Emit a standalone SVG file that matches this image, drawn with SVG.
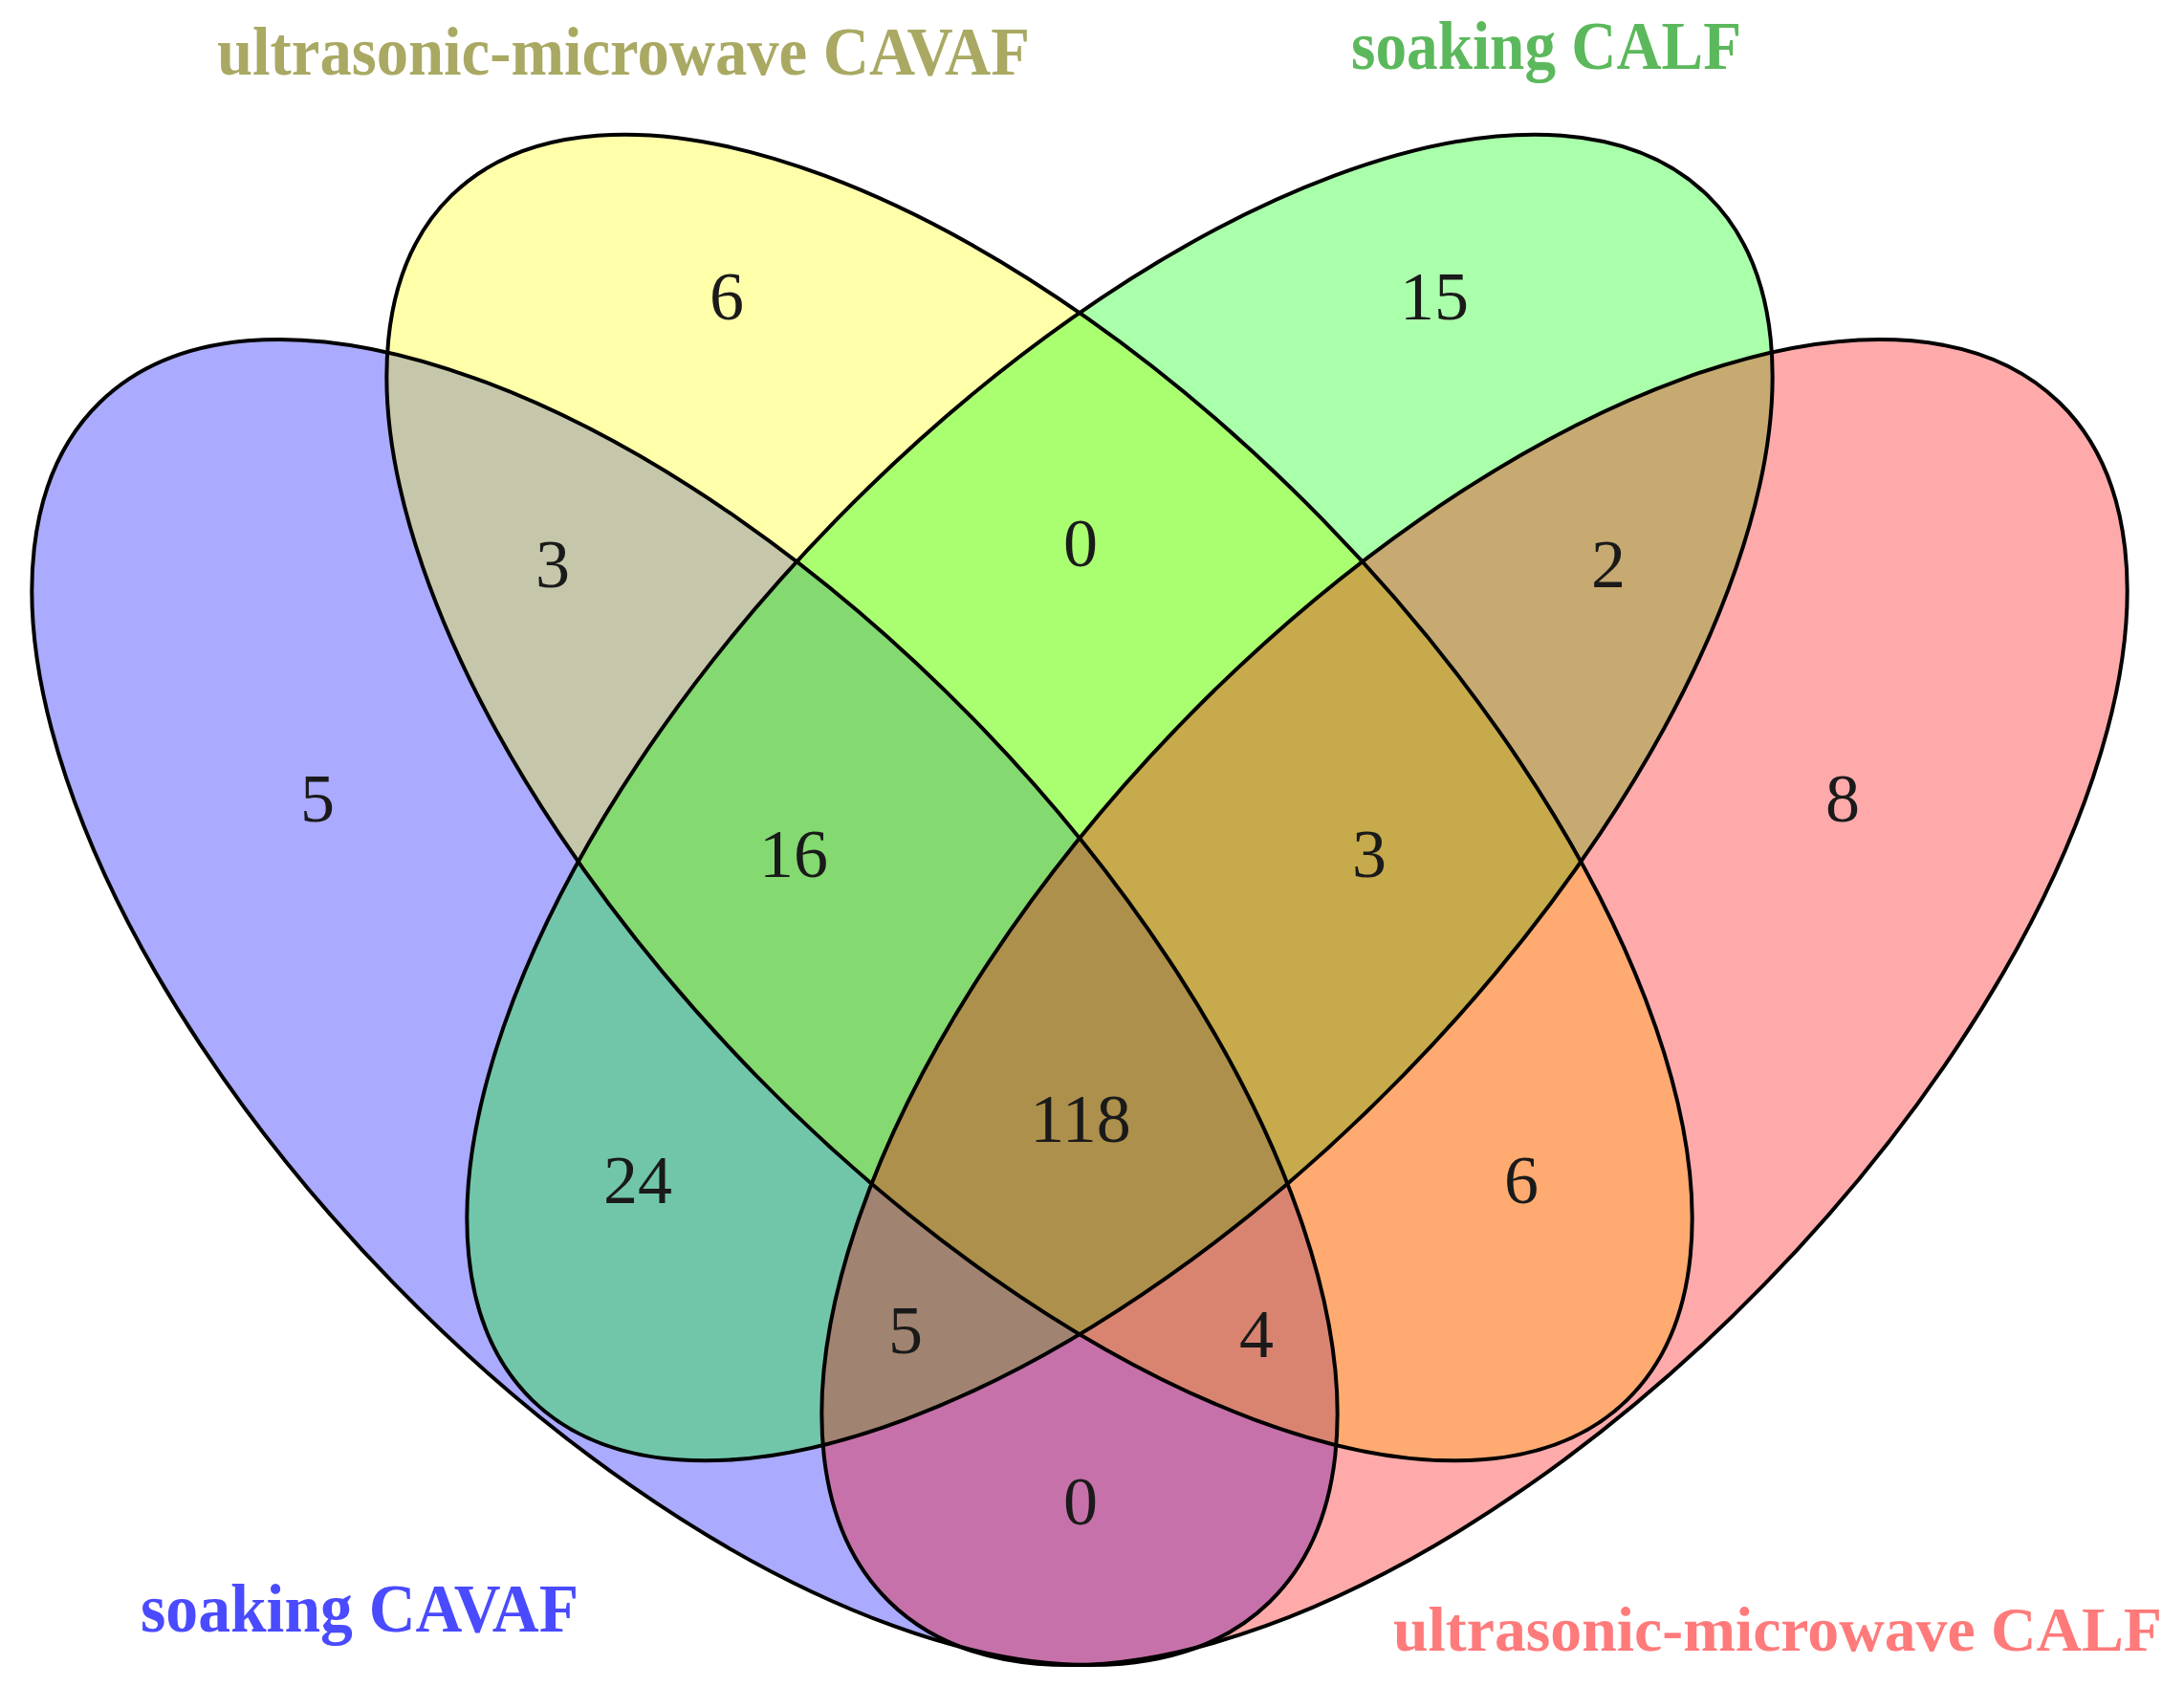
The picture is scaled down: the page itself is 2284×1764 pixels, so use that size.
<svg xmlns="http://www.w3.org/2000/svg" xmlns:xlink="http://www.w3.org/1999/xlink" width="2284" height="1764" viewBox="0 0 2284 1764">
<style>
.fill{fill-opacity:0.333;stroke:none}
.outline{fill:none;stroke:#000;stroke-width:4}
.count{font-family:"Liberation Serif","Times New Roman",serif;font-size:72px;text-anchor:middle;fill:#1a1a1a}
.label{font-family:"Liberation Serif","Times New Roman",serif;font-weight:bold;font-size:72px}
</style>
<defs>
<ellipse id="eA" cx="0" cy="0" rx="876" ry="423" transform="translate(716 1048) rotate(45.7)"/>
<ellipse id="eB" cx="0" cy="0" rx="880" ry="415" transform="translate(1087 834) rotate(45.7)"/>
<ellipse id="eC" cx="0" cy="0" rx="880" ry="415" transform="translate(1171 834) rotate(-45.7)"/>
<ellipse id="eD" cx="0" cy="0" rx="876" ry="423" transform="translate(1542 1048) rotate(-45.7)"/>
</defs>
<rect width="2284" height="1764" fill="#ffffff"/>
<g id="set-soaking-CAVAF">
<use xlink:href="#eA" href="#eA" class="fill" fill="#0000ff"/>
<text class="label" x="147" y="1706" fill="#4a4aff" textLength="458" lengthAdjust="spacingAndGlyphs">soaking CAVAF</text>
</g>
<g id="set-ultrasonic-microwave-CAVAF">
<use xlink:href="#eB" href="#eB" class="fill" fill="#ffff00"/>
<text class="label" x="227" y="78" fill="#a9a963" textLength="850" lengthAdjust="spacingAndGlyphs">ultrasonic-microwave CAVAF</text>
</g>
<g id="set-soaking-CALF">
<use xlink:href="#eC" href="#eC" class="fill" fill="#00ff00"/>
<text class="label" x="1413" y="72" fill="#5cb85c" textLength="408" lengthAdjust="spacingAndGlyphs">soaking CALF</text>
</g>
<g id="set-ultrasonic-microwave-CALF">
<use xlink:href="#eD" href="#eD" class="fill" fill="#ff0000"/>
<text class="label" x="1457" y="1726" fill="#ff7a7a" font-size="66" style="font-size:66px" textLength="804" lengthAdjust="spacingAndGlyphs">ultrasonic-microwave CALF</text>
</g>
<g id="outlines">
<use xlink:href="#eA" href="#eA" class="outline"/>
<use xlink:href="#eB" href="#eB" class="outline"/>
<use xlink:href="#eC" href="#eC" class="outline"/>
<use xlink:href="#eD" href="#eD" class="outline"/>
</g>
<g id="counts" class="count">
<text x="760" y="334">6</text>
<text x="1500" y="334">15</text>
<text x="578" y="614">3</text>
<text x="1130" y="592">0</text>
<text x="1682" y="614">2</text>
<text x="332" y="859">5</text>
<text x="830" y="917">16</text>
<text x="1432" y="917">3</text>
<text x="1927" y="859">8</text>
<text x="1130" y="1194">118</text>
<text x="667" y="1258">24</text>
<text x="1591" y="1258">6</text>
<text x="947" y="1415">5</text>
<text x="1314" y="1419">4</text>
<text x="1130" y="1594">0</text>
</g>
</svg>
